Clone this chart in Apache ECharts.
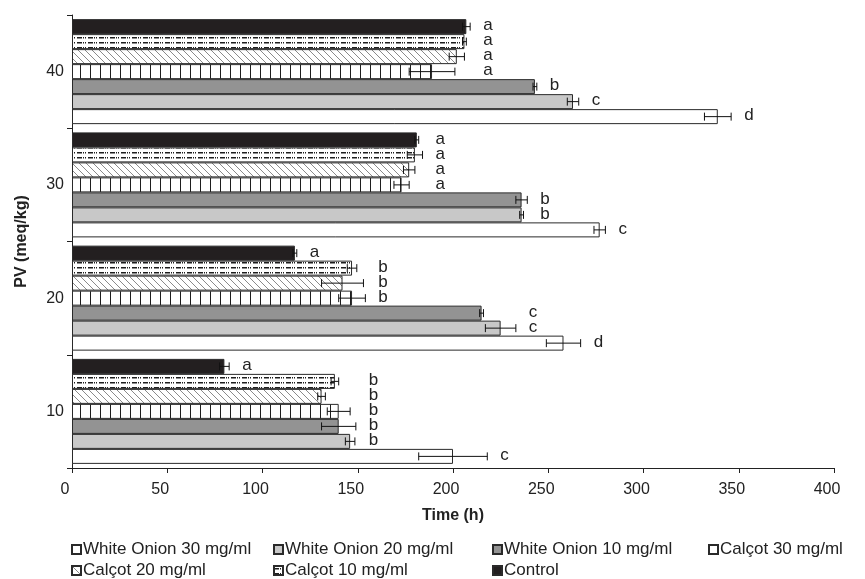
<!DOCTYPE html>
<html><head><meta charset="utf-8">
<script src="https://cdn.jsdelivr.net/npm/echarts@6/dist/echarts.min.js"></script>
<style>html,body{margin:0;padding:0;background:#fff}#c{width:865px;height:579px}</style>
</head><body><div id="c"></div>
<script>
// ---- data (categories: PV meq/kg, values: time in h) ----
const categories = ['10', '20', '30', '40'];
const seriesNames = ['White Onion 30 mg/ml', 'White Onion 20 mg/ml', 'White Onion 10 mg/ml',
  'Calçot 30 mg/ml', 'Calçot 20 mg/ml', 'Calçot 10 mg/ml', 'Control'];
const whiteOnion30 = [200, 258, 277, 339];
const whiteOnion20 = [146, 225, 236, 263];
const whiteOnion10 = [140, 215, 236, 243];
const calcot30 = [140, 147, 173, 189];
const calcot20 = [131, 142, 177, 202];
const calcot10 = [138, 147, 180, 206];
const control = [80, 117, 181, 207];
const whiteOnion30Err = [18, 9, 3, 7];
const whiteOnion20Err = [2.5, 8, 1, 3];
const whiteOnion10Err = [9, 1, 3, 1];
const calcot30Err = [6, 7, 4, 12];
const calcot20Err = [2, 11, 3, 4];
const calcot10Err = [2, 2.5, 4, 1];
const controlErr = [2.5, 1, 1, 2];
const whiteOnion30Letters = ['c', 'd', 'c', 'd'];
const whiteOnion20Letters = ['b', 'c', 'b', 'c'];
const whiteOnion10Letters = ['b', 'c', 'b', 'b'];
const calcot30Letters = ['b', 'b', 'a', 'a'];
const calcot20Letters = ['b', 'b', 'a', 'a'];
const calcot10Letters = ['b', 'b', 'a', 'a'];
const controlLetters = ['a', 'a', 'a', 'a'];
const xTicks = { min: 0, max: 400, interval: 50 };

// ---- patterns ----
function mk(w, h, draw) { const c = document.createElement('canvas'); c.width = w; c.height = h; const g = c.getContext('2d'); g.fillStyle = '#fff'; g.fillRect(0, 0, w, h); draw(g); return c; }
const pVert = mk(10, 10, g => { g.fillStyle = '#1e1e1e'; g.fillRect(0, 0, 1, 10); });
const pHatch = mk(7, 7, g => { g.strokeStyle = '#8a8a8a'; g.lineWidth = 1; g.beginPath(); g.moveTo(-1, -1); g.lineTo(8, 8); g.moveTo(6, -1); g.lineTo(8, 1); g.moveTo(-1, 6); g.lineTo(1, 8); g.stroke(); });
const pDash = mk(11, 5, g => { g.fillStyle = '#1e1e1e'; g.fillRect(0, 2, 5, 1.5); g.fillRect(6, 2, 1, 1.5); g.fillRect(8, 2, 1, 1.5); });

// bar order (top to bottom on screen): Control ... White Onion 30
const order = [6, 5, 4, 3, 2, 1, 0];
const vals = [whiteOnion30, whiteOnion20, whiteOnion10, calcot30, calcot20, calcot10, control];
const errs = [whiteOnion30Err, whiteOnion20Err, whiteOnion10Err, calcot30Err, calcot20Err, calcot10Err, controlErr];
const letters = [whiteOnion30Letters, whiteOnion20Letters, whiteOnion10Letters, calcot30Letters, calcot20Letters, calcot10Letters, controlLetters];
const fills = ['#ffffff', '#c8c8c8', '#939393', { image: pVert, repeat: 'repeat' }, { image: pHatch, repeat: 'repeat' }, { image: pDash, repeat: 'repeat' }, '#231f20'];

const font = '"Liberation Sans", Arial, sans-serif';
const BW = 15;
const series = order.map(s => ({
  type: 'bar', name: seriesNames[s], data: vals[s], barWidth: BW, barGap: '0%',
  itemStyle: { color: fills[s], borderColor: '#2a2a2a', borderWidth: 1 },
  emphasis: { disabled: true }, animation: false
}));

// letter x position: same letters within a category aligned after the largest upper error bound
function letterPos(c, s) {
  let m = 0;
  for (let k = 0; k < 7; k++) if (letters[k][c] === letters[s][c]) m = Math.max(m, vals[k][c] + errs[k][c]);
  return m;
}
const errData = [];
order.forEach((s, k) => categories.forEach((cat, c) => errData.push([vals[s][c], c, k, s])));
series.push({
  type: 'custom', name: 'err', data: errData, encode: { x: 0, y: 1 }, silent: true, animation: false, z: 5,
  renderItem(params, api) {
    const c = api.value(1), k = api.value(2), s = api.value(3);
    const v = vals[s][c], e = errs[s][c];
    const ctr = api.coord([v, c]);
    const y = ctr[1] - 7 * BW / 2 + k * BW + BW / 2;
    const x1 = api.coord([v - e, c])[0], x2 = api.coord([v + e, c])[0];
    const lx = api.coord([letterPos(c, s), c])[0] + 13;
    const st = { stroke: '#111', lineWidth: 1 };
    return {
      type: 'group', children: [
        { type: 'line', shape: { x1, y1: y, x2, y2: y }, style: st },
        { type: 'line', shape: { x1, y1: y - 4, x2: x1, y2: y + 4 }, style: st },
        { type: 'line', shape: { x1: x2, y1: y - 4, x2, y2: y + 4 }, style: st },
        { type: 'text', x: lx, y: y - 1, style: { text: letters[s][c], fill: '#222', font: '17px "Liberation Sans", Arial', textVerticalAlign: 'middle' } }
      ]
    };
  }
});

function lg(name, left, top) {
  return { data: [name], left, top, orient: 'horizontal', itemWidth: 9, itemHeight: 9, icon: 'rect',
    textStyle: { fontSize: 17, color: '#222', fontFamily: font, padding: [0, 0, 0, -3] }, selectedMode: false };
}
const chart = echarts.init(document.getElementById('c'), null, { renderer: 'canvas' });
chart.setOption({
  animation: false,
  textStyle: { fontFamily: font },
  grid: { left: 72, right: 31, top: 15, bottom: 111, containLabel: false },
  xAxis: {
    type: 'value', min: xTicks.min, max: xTicks.max, interval: xTicks.interval,
    name: 'Time (h)', nameLocation: 'middle', nameGap: 40,
    nameTextStyle: { fontSize: 16, fontWeight: 'bold', color: '#222', fontFamily: font },
    axisLine: { show: true, lineStyle: { color: '#222', width: 1 } },
    axisTick: { show: true, length: 5, lineStyle: { color: '#222' } },
    axisLabel: { fontSize: 16, color: '#222', margin: 14, fontFamily: font, padding: [0, 14, 0, 0] },
    splitLine: { show: false }
  },
  yAxis: {
    type: 'category', data: categories,
    name: 'PV (meq/kg)', nameLocation: 'middle', nameGap: 42, nameRotate: 90,
    nameTextStyle: { fontSize: 16, fontWeight: 'bold', color: '#222', fontFamily: font },
    axisLine: { show: true, lineStyle: { color: '#222', width: 1 } },
    axisTick: { show: true, length: 5, alignWithLabel: false, lineStyle: { color: '#222' } },
    axisLabel: { fontSize: 16, color: '#222', margin: 8, fontFamily: font },
    splitLine: { show: false }
  },
  legend: [
    lg(seriesNames[0], 66, 536), lg(seriesNames[1], 268, 536), lg(seriesNames[2], 487, 536), lg(seriesNames[3], 703, 536),
    lg(seriesNames[4], 66, 557), lg(seriesNames[5], 268, 557), lg(seriesNames[6], 487, 557)
  ],
  series
});
</script></body></html>
